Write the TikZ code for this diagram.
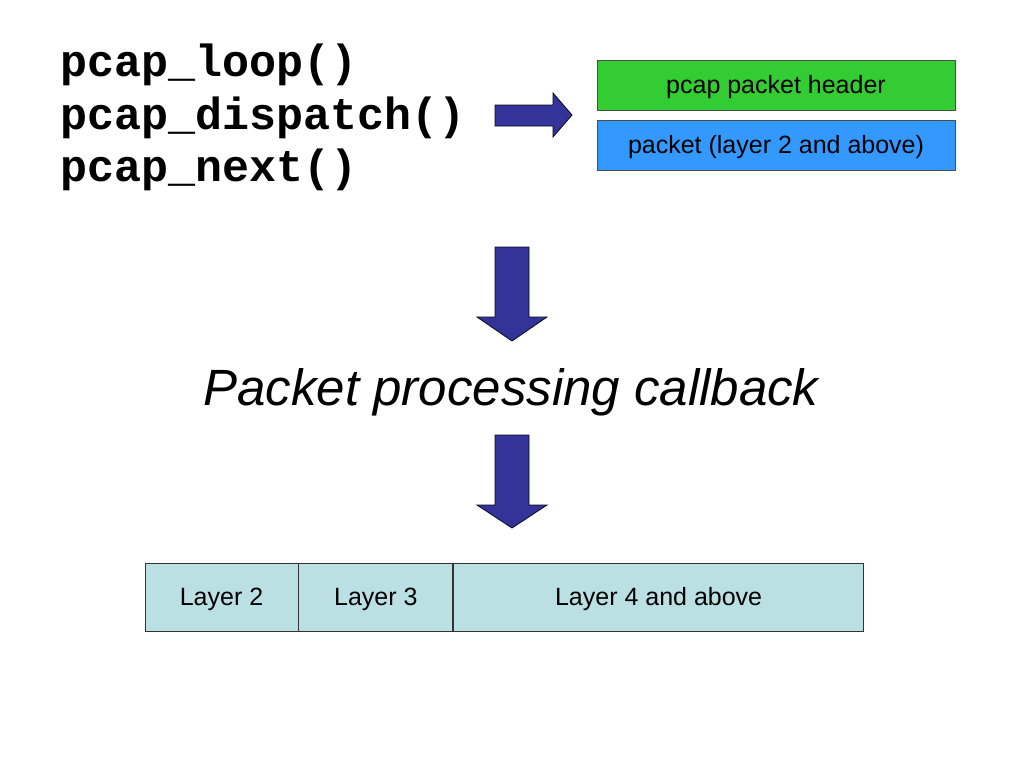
\documentclass[tikz,border=0pt]{standalone}
\usepackage{fontspec}
\setmainfont{Liberation Sans}
\setmonofont{Liberation Mono}
\usetikzlibrary{positioning}

\definecolor{hdrgreen}{HTML}{33CC33}
\definecolor{pktblue}{HTML}{3399FF}
\definecolor{arrowblue}{HTML}{333399}
\definecolor{layercyan}{HTML}{BBE0E3}

\tikzset{
  codeline/.style={anchor=base west, inner sep=0pt, font=\fontsize{45}{52}\selectfont\ttfamily\bfseries},
  bigarrow/.style={fill=arrowblue, draw=black!80!arrowblue, line width=0.8pt},
  hdrbox/.style={draw=black!70, line width=0.8pt, minimum width=358pt, minimum height=50pt, inner sep=0pt, text depth=1pt, font=\fontsize{25}{30}\selectfont},
  layerbox/.style={draw=black!80, fill=layercyan, line width=0.8pt, minimum height=68pt, inner sep=0pt, text depth=1pt, font=\fontsize{25}{30}\selectfont}
}

\begin{document}
\begin{tikzpicture}[x=1pt, y=-1pt]
  \useasboundingbox[fill=white] (0,0) rectangle (1024,768);

  % the capture calls
  \node[codeline] (loop) at (60,77) {pcap\_loop()};
  \node[codeline] (dispatch) at (60,129) {pcap\_dispatch()};
  \node[codeline] (next) at (60,181) {pcap\_next()};

  % what the capture hands over
  \node[hdrbox, fill=hdrgreen] (header) at (776,85) {pcap packet header};
  \node[hdrbox, fill=pktblue] (packet) at (776,145) {packet (layer 2 and above)};

  % block arrows
  \draw[bigarrow] (495,105) -- (553,105) -- (553,93) -- (572,115) -- (553,137) -- (553,126) -- (495,126) -- cycle;
  \draw[bigarrow] (495,247) -- (529,247) -- (529,317) -- (547,317) -- (512,341) -- (477,317) -- (495,317) -- cycle;
  \draw[bigarrow] (495,435) -- (529,435) -- (529,505) -- (547,505) -- (512,528) -- (477,505) -- (495,505) -- cycle;

  \node[anchor=base, inner sep=0pt, font=\fontsize{51}{60}\selectfont\itshape] (callback) at (511,405) {Packet processing callback};

  % the layers of the packet
  \node[layerbox, minimum width=153pt] (l2) at (221.5,597) {Layer 2};
  \node[layerbox, minimum width=154pt, right=0pt of l2] (l3) {Layer 3};
  \node[layerbox, minimum width=410pt, right=0pt of l3] (l4) {Layer 4 and above};
\end{tikzpicture}
\end{document}
